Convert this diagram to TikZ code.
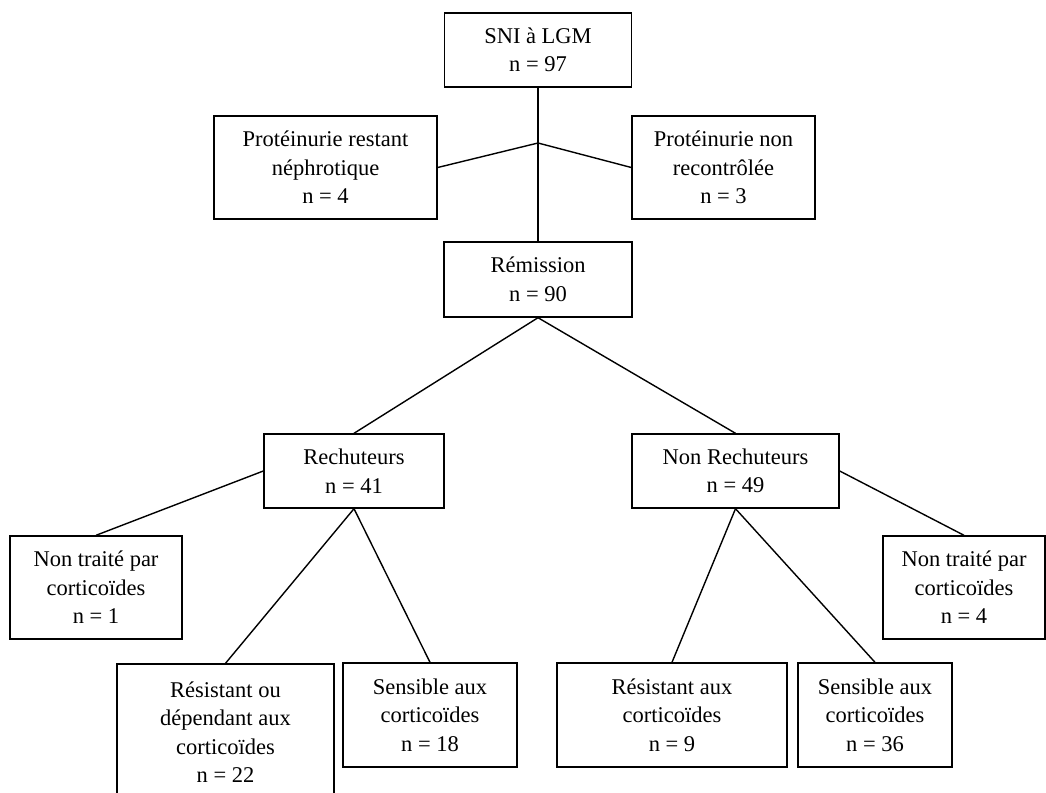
\documentclass[tikz,border=0pt]{standalone}
\usepackage{fontspec}
\setmainfont{Liberation Serif}
\begin{document}
\begin{tikzpicture}[x=1pt, y=-1pt, line width=1.4pt, every node/.style={draw, rectangle, align=center, inner sep=0pt, font=\fontsize{22.5}{28.5}\selectfont}]
            \useasboundingbox (0,0) rectangle (1046,792);
            \node [minimum width=187pt, minimum height=74pt] (SNI) at (538,50) {SNI à LGM\\n = 97};
            \node [minimum width=223pt, minimum height=103pt] (ProtL) at (325.5,167.5) {Protéinurie restant\\néphrotique\\n = 4};
            \node [minimum width=183pt, minimum height=103pt] (ProtR) at (723.5,167.5) {Protéinurie non\\recontrôlée\\n = 3};
            \node [minimum width=188pt, minimum height=75pt] (Remission) at (538,279.5) {Rémission\\n = 90};
            \node [minimum width=180pt, minimum height=74pt] (Rech) at (354,471) {Rechuteurs\\n = 41};
            \node [minimum width=207pt, minimum height=74pt] (NonRech) at (735.5,471) {Non Rechuteurs\\n = 49};
            \node [minimum width=172pt, minimum height=103pt] (NTL) at (96,587.5) {Non traité par\\corticoïdes\\n = 1};
            \node [minimum width=162pt, minimum height=103pt] (NTR) at (964,587.5) {Non traité par\\corticoïdes\\n = 4};
            \node [minimum width=217pt, minimum height=136pt] (ResDep) at (225.5,732) {Résistant ou\\dépendant aux\\corticoïdes\\n = 22};
            \node [minimum width=174pt, minimum height=104pt] (SensL) at (430,715) {Sensible aux\\corticoïdes\\n = 18};
            \node [minimum width=230pt, minimum height=104pt] (ResAux) at (672,715) {Résistant aux\\corticoïdes\\n = 9};
            \node [minimum width=154pt, minimum height=104pt] (SensR) at (875,715) {Sensible aux\\corticoïdes\\n = 36};
            \coordinate (Split) at (538,143);
            \path (SNI) edge (Remission);
            \path (Split) edge (ProtL.east);
            \path (Split) edge (ProtR.west);
            \path (Remission.south) edge (Rech.north);
            \path (Remission.south) edge (NonRech.north);
            \path (Rech.west) edge (NTL.north);
            \path (Rech.south) edge (ResDep.north);
            \path (Rech.south) edge (SensL.north);
            \path (NonRech.east) edge (NTR.north);
            \path (NonRech.south) edge (ResAux.north);
            \path (NonRech.south) edge (SensR.north);
        \end{tikzpicture}
\end{document}
